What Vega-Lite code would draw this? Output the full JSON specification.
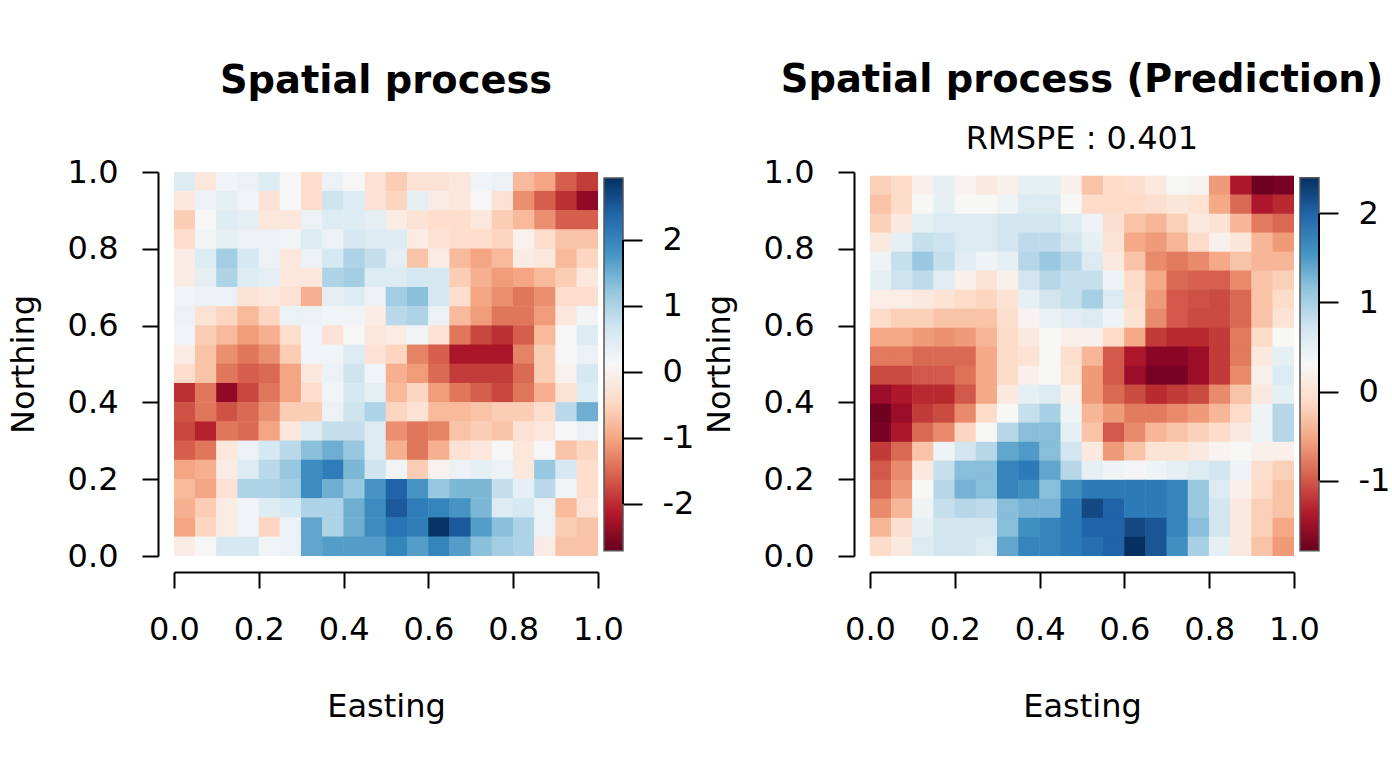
{"$schema":"https://vega.github.io/schema/vega-lite/v6.json","padding":{"left":7,"top":60,"right":0,"bottom":30},"background":"white","bounds":"flush","spacing":6,
"config":{"view":{"stroke":null},"font":"DejaVu Sans","axis":{"grid":false,"labelFont":"DejaVu Sans","titleFont":"DejaVu Sans","labelFontSize":32,"titleFontSize":32,"titleFontWeight":"normal","labelColor":"black","titleColor":"black","domainColor":"black","tickColor":"black","domainWidth":2,"tickWidth":2,"tickSize":16,"labelOverlap":false,"labelFlush":false,"labelBound":false}},
"resolve":{"scale":{"color":"independent"}},
"datasets":{
"l":[
{"x":0.025,"y":0.975,"v":0.5},{"x":0.075,"y":0.975,"v":-0.2},{"x":0.125,"y":0.975,"v":0.2},{"x":0.175,"y":0.975,"v":0.3},{"x":0.225,"y":0.975,"v":0.5},{"x":0.275,"y":0.975,"v":0.1},{"x":0.325,"y":0.975,"v":-0.4},{"x":0.375,"y":0.975,"v":0.3},{"x":0.425,"y":0.975,"v":0.1},{"x":0.475,"y":0.975,"v":-0.3},{"x":0.525,"y":0.975,"v":-0.6},{"x":0.575,"y":0.975,"v":-0.3},{"x":0.625,"y":0.975,"v":-0.3},{"x":0.675,"y":0.975,"v":-0.2},{"x":0.725,"y":0.975,"v":0.2},{"x":0.775,"y":0.975,"v":0.3},{"x":0.825,"y":0.975,"v":-0.8},{"x":0.875,"y":0.975,"v":-1},{"x":0.925,"y":0.975,"v":-1.6},{"x":0.975,"y":0.975,"v":-1.9},
{"x":0.025,"y":0.925,"v":-0.2},{"x":0.075,"y":0.925,"v":0.3},{"x":0.125,"y":0.925,"v":0.4},{"x":0.175,"y":0.925,"v":0.2},{"x":0.225,"y":0.925,"v":-0.3},{"x":0.275,"y":0.925,"v":0.1},{"x":0.325,"y":0.925,"v":-0.4},{"x":0.375,"y":0.925,"v":0.7},{"x":0.425,"y":0.925,"v":0.5},{"x":0.475,"y":0.925,"v":-0.3},{"x":0.525,"y":0.925,"v":-0.5},{"x":0.575,"y":0.925,"v":0.4},{"x":0.625,"y":0.925,"v":-0.1},{"x":0.675,"y":0.925,"v":-0.2},{"x":0.725,"y":0.925,"v":0.1},{"x":0.775,"y":0.925,"v":-0.3},{"x":0.825,"y":0.925,"v":-1.2},{"x":0.875,"y":0.925,"v":-1.6},{"x":0.925,"y":0.925,"v":-2},{"x":0.975,"y":0.925,"v":-2.4},
{"x":0.025,"y":0.875,"v":-0.6},{"x":0.075,"y":0.875,"v":0.1},{"x":0.125,"y":0.875,"v":0.5},{"x":0.175,"y":0.875,"v":0.4},{"x":0.225,"y":0.875,"v":-0.2},{"x":0.275,"y":0.875,"v":-0.2},{"x":0.325,"y":0.875,"v":0.3},{"x":0.375,"y":0.875,"v":0.5},{"x":0.425,"y":0.875,"v":0.5},{"x":0.475,"y":0.875,"v":0.4},{"x":0.525,"y":0.875,"v":-0.1},{"x":0.575,"y":0.875,"v":-0.3},{"x":0.625,"y":0.875,"v":-0.4},{"x":0.675,"y":0.875,"v":-0.4},{"x":0.725,"y":0.875,"v":-0.2},{"x":0.775,"y":0.875,"v":-0.6},{"x":0.825,"y":0.875,"v":-0.8},{"x":0.875,"y":0.875,"v":-1.2},{"x":0.925,"y":0.875,"v":-1.6},{"x":0.975,"y":0.875,"v":-1.6},
{"x":0.025,"y":0.825,"v":-0.4},{"x":0.075,"y":0.825,"v":0.2},{"x":0.125,"y":0.825,"v":0.4},{"x":0.175,"y":0.825,"v":0.3},{"x":0.225,"y":0.825,"v":0.3},{"x":0.275,"y":0.825,"v":0.2},{"x":0.325,"y":0.825,"v":0.5},{"x":0.375,"y":0.825,"v":0.3},{"x":0.425,"y":0.825,"v":0.6},{"x":0.475,"y":0.825,"v":0.5},{"x":0.525,"y":0.825,"v":0.5},{"x":0.575,"y":0.825,"v":-0.1},{"x":0.625,"y":0.825,"v":-0.3},{"x":0.675,"y":0.825,"v":-0.4},{"x":0.725,"y":0.825,"v":-0.4},{"x":0.775,"y":0.825,"v":-0.5},{"x":0.825,"y":0.825,"v":0},{"x":0.875,"y":0.825,"v":-0.4},{"x":0.925,"y":0.825,"v":-0.7},{"x":0.975,"y":0.825,"v":-0.7},
{"x":0.025,"y":0.775,"v":-0.1},{"x":0.075,"y":0.775,"v":0.5},{"x":0.125,"y":0.775,"v":1.1},{"x":0.175,"y":0.775,"v":0.6},{"x":0.225,"y":0.775,"v":0.3},{"x":0.275,"y":0.775,"v":-0.2},{"x":0.325,"y":0.775,"v":0.3},{"x":0.375,"y":0.775,"v":0.6},{"x":0.425,"y":0.775,"v":1},{"x":0.475,"y":0.775,"v":0.8},{"x":0.525,"y":0.775,"v":0.4},{"x":0.575,"y":0.775,"v":-0.7},{"x":0.625,"y":0.775,"v":-0.1},{"x":0.675,"y":0.775,"v":-0.8},{"x":0.725,"y":0.775,"v":-1},{"x":0.775,"y":0.775,"v":-0.8},{"x":0.825,"y":0.775,"v":-0.1},{"x":0.875,"y":0.775,"v":-0.2},{"x":0.925,"y":0.775,"v":-0.8},{"x":0.975,"y":0.775,"v":-0.5},
{"x":0.025,"y":0.725,"v":-0.1},{"x":0.075,"y":0.725,"v":0.4},{"x":0.125,"y":0.725,"v":1},{"x":0.175,"y":0.725,"v":0.5},{"x":0.225,"y":0.725,"v":0.4},{"x":0.275,"y":0.725,"v":-0.2},{"x":0.325,"y":0.725,"v":-0.2},{"x":0.375,"y":0.725,"v":1},{"x":0.425,"y":0.725,"v":1.1},{"x":0.475,"y":0.725,"v":0.5},{"x":0.525,"y":0.725,"v":0.5},{"x":0.575,"y":0.725,"v":0.6},{"x":0.625,"y":0.725,"v":0.6},{"x":0.675,"y":0.725,"v":-0.6},{"x":0.725,"y":0.725,"v":-0.9},{"x":0.775,"y":0.725,"v":-1.1},{"x":0.825,"y":0.725,"v":-1},{"x":0.875,"y":0.725,"v":-0.8},{"x":0.925,"y":0.725,"v":-0.6},{"x":0.975,"y":0.725,"v":-0.2},
{"x":0.025,"y":0.675,"v":0.2},{"x":0.075,"y":0.675,"v":0.3},{"x":0.125,"y":0.675,"v":0.3},{"x":0.175,"y":0.675,"v":-0.3},{"x":0.225,"y":0.675,"v":-0.2},{"x":0.275,"y":0.675,"v":-0.3},{"x":0.325,"y":0.675,"v":-0.9},{"x":0.375,"y":0.675,"v":0.4},{"x":0.425,"y":0.675,"v":0.5},{"x":0.475,"y":0.675,"v":0.3},{"x":0.525,"y":0.675,"v":1.1},{"x":0.575,"y":0.675,"v":1.3},{"x":0.625,"y":0.675,"v":0.6},{"x":0.675,"y":0.675,"v":-0.4},{"x":0.725,"y":0.675,"v":-1},{"x":0.775,"y":0.675,"v":-1.2},{"x":0.825,"y":0.675,"v":-1.4},{"x":0.875,"y":0.675,"v":-1.2},{"x":0.925,"y":0.675,"v":-0.4},{"x":0.975,"y":0.675,"v":-0.4},
{"x":0.025,"y":0.625,"v":0.3},{"x":0.075,"y":0.625,"v":-0.3},{"x":0.125,"y":0.625,"v":-0.5},{"x":0.175,"y":0.625,"v":-0.8},{"x":0.225,"y":0.625,"v":-0.5},{"x":0.275,"y":0.625,"v":0.3},{"x":0.325,"y":0.625,"v":0.3},{"x":0.375,"y":0.625,"v":0.2},{"x":0.425,"y":0.625,"v":0.2},{"x":0.475,"y":0.625,"v":-0.1},{"x":0.525,"y":0.625,"v":0.9},{"x":0.575,"y":0.625,"v":1},{"x":0.625,"y":0.625,"v":0.3},{"x":0.675,"y":0.625,"v":-0.8},{"x":0.725,"y":0.625,"v":-1.1},{"x":0.775,"y":0.625,"v":-1.4},{"x":0.825,"y":0.625,"v":-1.4},{"x":0.875,"y":0.625,"v":-1.1},{"x":0.925,"y":0.625,"v":-0.2},{"x":0.975,"y":0.625,"v":0.2},
{"x":0.025,"y":0.575,"v":0.2},{"x":0.075,"y":0.575,"v":-0.6},{"x":0.125,"y":0.575,"v":-0.8},{"x":0.175,"y":0.575,"v":-1.1},{"x":0.225,"y":0.575,"v":-0.9},{"x":0.275,"y":0.575,"v":-0.4},{"x":0.325,"y":0.575,"v":0.2},{"x":0.375,"y":0.575,"v":-0.3},{"x":0.425,"y":0.575,"v":0.1},{"x":0.475,"y":0.575,"v":-0.2},{"x":0.525,"y":0.575,"v":-0.1},{"x":0.575,"y":0.575,"v":0.2},{"x":0.625,"y":0.575,"v":-0.3},{"x":0.675,"y":0.575,"v":-1.4},{"x":0.725,"y":0.575,"v":-1.8},{"x":0.775,"y":0.575,"v":-2},{"x":0.825,"y":0.575,"v":-1.6},{"x":0.875,"y":0.575,"v":-0.8},{"x":0.925,"y":0.575,"v":0.1},{"x":0.975,"y":0.575,"v":0.5},
{"x":0.025,"y":0.525,"v":-0.1},{"x":0.075,"y":0.525,"v":-0.7},{"x":0.125,"y":0.525,"v":-1.2},{"x":0.175,"y":0.525,"v":-1.4},{"x":0.225,"y":0.525,"v":-1.2},{"x":0.275,"y":0.525,"v":-0.6},{"x":0.325,"y":0.525,"v":0.2},{"x":0.375,"y":0.525,"v":0.2},{"x":0.425,"y":0.525,"v":0.5},{"x":0.475,"y":0.525,"v":-0.3},{"x":0.525,"y":0.525,"v":-0.5},{"x":0.575,"y":0.525,"v":-1.3},{"x":0.625,"y":0.525,"v":-1.6},{"x":0.675,"y":0.525,"v":-2.2},{"x":0.725,"y":0.525,"v":-2.2},{"x":0.775,"y":0.525,"v":-2.2},{"x":0.825,"y":0.525,"v":-1.3},{"x":0.875,"y":0.525,"v":-0.6},{"x":0.925,"y":0.525,"v":0.1},{"x":0.975,"y":0.525,"v":0.3},
{"x":0.025,"y":0.475,"v":-0.4},{"x":0.075,"y":0.475,"v":-0.7},{"x":0.125,"y":0.475,"v":-1.4},{"x":0.175,"y":0.475,"v":-1.6},{"x":0.225,"y":0.475,"v":-1.5},{"x":0.275,"y":0.475,"v":-1},{"x":0.325,"y":0.475,"v":-0.2},{"x":0.375,"y":0.475,"v":0.3},{"x":0.425,"y":0.475,"v":0.7},{"x":0.475,"y":0.475,"v":0.2},{"x":0.525,"y":0.475,"v":-0.9},{"x":0.575,"y":0.475,"v":-1.1},{"x":0.625,"y":0.475,"v":-1.5},{"x":0.675,"y":0.475,"v":-1.9},{"x":0.725,"y":0.475,"v":-1.9},{"x":0.775,"y":0.475,"v":-1.9},{"x":0.825,"y":0.475,"v":-1.5},{"x":0.875,"y":0.475,"v":-0.6},{"x":0.925,"y":0.475,"v":0},{"x":0.975,"y":0.475,"v":0.6},
{"x":0.025,"y":0.425,"v":-2},{"x":0.075,"y":0.425,"v":-1.4},{"x":0.125,"y":0.425,"v":-2.4},{"x":0.175,"y":0.425,"v":-1.8},{"x":0.225,"y":0.425,"v":-1.4},{"x":0.275,"y":0.425,"v":-1},{"x":0.325,"y":0.425,"v":-0.4},{"x":0.375,"y":0.425,"v":0.2},{"x":0.425,"y":0.425,"v":0.6},{"x":0.475,"y":0.425,"v":0.4},{"x":0.525,"y":0.425,"v":-0.8},{"x":0.575,"y":0.425,"v":-0.5},{"x":0.625,"y":0.425,"v":-1.1},{"x":0.675,"y":0.425,"v":-1.4},{"x":0.725,"y":0.425,"v":-1.6},{"x":0.775,"y":0.425,"v":-1.8},{"x":0.825,"y":0.425,"v":-1.4},{"x":0.875,"y":0.425,"v":-0.9},{"x":0.925,"y":0.425,"v":-0.3},{"x":0.975,"y":0.425,"v":0.5},
{"x":0.025,"y":0.375,"v":-1.7},{"x":0.075,"y":0.375,"v":-1.4},{"x":0.125,"y":0.375,"v":-1.7},{"x":0.175,"y":0.375,"v":-1.5},{"x":0.225,"y":0.375,"v":-1.2},{"x":0.275,"y":0.375,"v":-0.6},{"x":0.325,"y":0.375,"v":-0.6},{"x":0.375,"y":0.375,"v":0.3},{"x":0.425,"y":0.375,"v":0.7},{"x":0.475,"y":0.375,"v":1},{"x":0.525,"y":0.375,"v":-0.5},{"x":0.575,"y":0.375,"v":-0.3},{"x":0.625,"y":0.375,"v":-0.8},{"x":0.675,"y":0.375,"v":-0.8},{"x":0.725,"y":0.375,"v":-0.7},{"x":0.775,"y":0.375,"v":-0.6},{"x":0.825,"y":0.375,"v":-0.6},{"x":0.875,"y":0.375,"v":-0.4},{"x":0.925,"y":0.375,"v":0.9},{"x":0.975,"y":0.375,"v":1.5},
{"x":0.025,"y":0.325,"v":-1.8},{"x":0.075,"y":0.325,"v":-2.1},{"x":0.125,"y":0.325,"v":-1.4},{"x":0.175,"y":0.325,"v":-1.5},{"x":0.225,"y":0.325,"v":-1},{"x":0.275,"y":0.325,"v":-0.2},{"x":0.325,"y":0.325,"v":0.5},{"x":0.375,"y":0.325,"v":0.8},{"x":0.425,"y":0.325,"v":0.8},{"x":0.475,"y":0.325,"v":0.5},{"x":0.525,"y":0.325,"v":-1.2},{"x":0.575,"y":0.325,"v":-1.4},{"x":0.625,"y":0.325,"v":-1.3},{"x":0.675,"y":0.325,"v":-0.7},{"x":0.725,"y":0.325,"v":-0.6},{"x":0.775,"y":0.325,"v":-0.7},{"x":0.825,"y":0.325,"v":-0.3},{"x":0.875,"y":0.325,"v":-0.2},{"x":0.925,"y":0.325,"v":0.1},{"x":0.975,"y":0.325,"v":0.3},
{"x":0.025,"y":0.275,"v":-1.6},{"x":0.075,"y":0.275,"v":-1.4},{"x":0.125,"y":0.275,"v":-0.2},{"x":0.175,"y":0.275,"v":0.3},{"x":0.225,"y":0.275,"v":0.6},{"x":0.275,"y":0.275,"v":0.9},{"x":0.325,"y":0.275,"v":1.3},{"x":0.375,"y":0.275,"v":1.5},{"x":0.425,"y":0.275,"v":1.2},{"x":0.475,"y":0.275,"v":0.5},{"x":0.525,"y":0.275,"v":-0.9},{"x":0.575,"y":0.275,"v":-1.4},{"x":0.625,"y":0.275,"v":-0.9},{"x":0.675,"y":0.275,"v":-0.3},{"x":0.725,"y":0.275,"v":-0.2},{"x":0.775,"y":0.275,"v":0.1},{"x":0.825,"y":0.275,"v":-0.2},{"x":0.875,"y":0.275,"v":0.1},{"x":0.925,"y":0.275,"v":-0.7},{"x":0.975,"y":0.275,"v":-0.5},
{"x":0.025,"y":0.225,"v":-1},{"x":0.075,"y":0.225,"v":-0.9},{"x":0.125,"y":0.225,"v":-0.1},{"x":0.175,"y":0.225,"v":0.5},{"x":0.225,"y":0.225,"v":0.9},{"x":0.275,"y":0.225,"v":1.2},{"x":0.325,"y":0.225,"v":1.9},{"x":0.375,"y":0.225,"v":2.1},{"x":0.425,"y":0.225,"v":1.4},{"x":0.475,"y":0.225,"v":0.7},{"x":0.525,"y":0.225,"v":0.2},{"x":0.575,"y":0.225,"v":-0.6},{"x":0.625,"y":0.225,"v":0},{"x":0.675,"y":0.225,"v":0.3},{"x":0.725,"y":0.225,"v":0.4},{"x":0.775,"y":0.225,"v":0.3},{"x":0.825,"y":0.225,"v":-0.2},{"x":0.875,"y":0.225,"v":1.2},{"x":0.925,"y":0.225,"v":0.6},{"x":0.975,"y":0.225,"v":-0.4},
{"x":0.025,"y":0.175,"v":-0.8},{"x":0.075,"y":0.175,"v":-1},{"x":0.125,"y":0.175,"v":-0.3},{"x":0.175,"y":0.175,"v":1},{"x":0.225,"y":0.175,"v":1},{"x":0.275,"y":0.175,"v":1.1},{"x":0.325,"y":0.175,"v":1.9},{"x":0.375,"y":0.175,"v":1.5},{"x":0.425,"y":0.175,"v":1.2},{"x":0.475,"y":0.175,"v":1.8},{"x":0.525,"y":0.175,"v":2.4},{"x":0.575,"y":0.175,"v":1.8},{"x":0.625,"y":0.175,"v":1.2},{"x":0.675,"y":0.175,"v":1.4},{"x":0.725,"y":0.175,"v":1.4},{"x":0.775,"y":0.175,"v":0.8},{"x":0.825,"y":0.175,"v":0.4},{"x":0.875,"y":0.175,"v":0.9},{"x":0.925,"y":0.175,"v":0.2},{"x":0.975,"y":0.175,"v":-0.4},
{"x":0.025,"y":0.125,"v":-0.9},{"x":0.075,"y":0.125,"v":-0.6},{"x":0.125,"y":0.125,"v":-0.1},{"x":0.175,"y":0.125,"v":0.2},{"x":0.225,"y":0.125,"v":0.5},{"x":0.275,"y":0.125,"v":0.6},{"x":0.325,"y":0.125,"v":1},{"x":0.375,"y":0.125,"v":1},{"x":0.425,"y":0.125,"v":1.5},{"x":0.475,"y":0.125,"v":1.9},{"x":0.525,"y":0.125,"v":2.5},{"x":0.575,"y":0.125,"v":2.1},{"x":0.625,"y":0.125,"v":2},{"x":0.675,"y":0.125,"v":1.8},{"x":0.725,"y":0.125,"v":1.4},{"x":0.775,"y":0.125,"v":0.5},{"x":0.825,"y":0.125,"v":0.6},{"x":0.875,"y":0.125,"v":0.3},{"x":0.925,"y":0.125,"v":-0.8},{"x":0.975,"y":0.125,"v":-0.3},
{"x":0.025,"y":0.075,"v":-1},{"x":0.075,"y":0.075,"v":-0.5},{"x":0.125,"y":0.075,"v":-0.1},{"x":0.175,"y":0.075,"v":0.2},{"x":0.225,"y":0.075,"v":-0.5},{"x":0.275,"y":0.075,"v":0.3},{"x":0.325,"y":0.075,"v":1.6},{"x":0.375,"y":0.075,"v":1},{"x":0.425,"y":0.075,"v":1.5},{"x":0.475,"y":0.075,"v":1.9},{"x":0.525,"y":0.075,"v":2.2},{"x":0.575,"y":0.075,"v":2.1},{"x":0.625,"y":0.075,"v":2.9},{"x":0.675,"y":0.075,"v":2.5},{"x":0.725,"y":0.075,"v":1.7},{"x":0.775,"y":0.075,"v":1.3},{"x":0.825,"y":0.075,"v":1},{"x":0.875,"y":0.075,"v":0.3},{"x":0.925,"y":0.075,"v":-0.6},{"x":0.975,"y":0.075,"v":-0.7},
{"x":0.025,"y":0.025,"v":-0.1},{"x":0.075,"y":0.025,"v":0.1},{"x":0.125,"y":0.025,"v":0.6},{"x":0.175,"y":0.025,"v":0.6},{"x":0.225,"y":0.025,"v":0.2},{"x":0.275,"y":0.025,"v":0.3},{"x":0.325,"y":0.025,"v":1.6},{"x":0.375,"y":0.025,"v":1.7},{"x":0.425,"y":0.025,"v":1.7},{"x":0.475,"y":0.025,"v":1.7},{"x":0.525,"y":0.025,"v":2},{"x":0.575,"y":0.025,"v":1.7},{"x":0.625,"y":0.025,"v":2},{"x":0.675,"y":0.025,"v":1.7},{"x":0.725,"y":0.025,"v":1.3},{"x":0.775,"y":0.025,"v":1.1},{"x":0.825,"y":0.025,"v":1},{"x":0.875,"y":0.025,"v":-0.1},{"x":0.925,"y":0.025,"v":-0.7},{"x":0.975,"y":0.025,"v":-0.7}
],
"r":[
{"x":0.025,"y":0.965,"v":-0.2},{"x":0.075,"y":0.965,"v":-0.1},{"x":0.125,"y":0.965,"v":0.2},{"x":0.175,"y":0.965,"v":0.5},{"x":0.225,"y":0.965,"v":0.25},{"x":0.275,"y":0.965,"v":0.1},{"x":0.325,"y":0.965,"v":0.2},{"x":0.375,"y":0.965,"v":0.5},{"x":0.425,"y":0.965,"v":0.5},{"x":0.475,"y":0.965,"v":0.2},{"x":0.525,"y":0.965,"v":-0.3},{"x":0.575,"y":0.965,"v":-0.1},{"x":0.625,"y":0.965,"v":-0.05},{"x":0.675,"y":0.965,"v":0.1},{"x":0.725,"y":0.965,"v":0.3},{"x":0.775,"y":0.965,"v":0.25},{"x":0.825,"y":0.965,"v":-0.6},{"x":0.875,"y":0.965,"v":-1.4},{"x":0.925,"y":0.965,"v":-1.75},{"x":0.975,"y":0.965,"v":-1.7},
{"x":0.025,"y":0.916,"v":-0.3},{"x":0.075,"y":0.916,"v":-0.1},{"x":0.125,"y":0.916,"v":0.3},{"x":0.175,"y":0.916,"v":0.5},{"x":0.225,"y":0.916,"v":0.3},{"x":0.275,"y":0.916,"v":0.3},{"x":0.325,"y":0.916,"v":0.4},{"x":0.375,"y":0.916,"v":0.6},{"x":0.425,"y":0.916,"v":0.6},{"x":0.475,"y":0.916,"v":0.3},{"x":0.525,"y":0.916,"v":-0.1},{"x":0.575,"y":0.916,"v":-0.1},{"x":0.625,"y":0.916,"v":-0.1},{"x":0.675,"y":0.916,"v":-0.05},{"x":0.725,"y":0.916,"v":0.05},{"x":0.775,"y":0.916,"v":0},{"x":0.825,"y":0.916,"v":-0.5},{"x":0.875,"y":0.916,"v":-0.9},{"x":0.925,"y":0.916,"v":-1.4},{"x":0.975,"y":0.916,"v":-1.3},
{"x":0.025,"y":0.866,"v":-0.2},{"x":0.075,"y":0.866,"v":0.1},{"x":0.125,"y":0.866,"v":0.5},{"x":0.175,"y":0.866,"v":0.6},{"x":0.225,"y":0.866,"v":0.6},{"x":0.275,"y":0.866,"v":0.6},{"x":0.325,"y":0.866,"v":0.7},{"x":0.375,"y":0.866,"v":0.7},{"x":0.425,"y":0.866,"v":0.7},{"x":0.475,"y":0.866,"v":0.6},{"x":0.525,"y":0.866,"v":0.4},{"x":0.575,"y":0.866,"v":-0.05},{"x":0.625,"y":0.866,"v":-0.3},{"x":0.675,"y":0.866,"v":-0.4},{"x":0.725,"y":0.866,"v":-0.2},{"x":0.775,"y":0.866,"v":0.1},{"x":0.825,"y":0.866,"v":0},{"x":0.875,"y":0.866,"v":-0.4},{"x":0.925,"y":0.866,"v":-0.8},{"x":0.975,"y":0.866,"v":-0.9},
{"x":0.025,"y":0.817,"v":0.1},{"x":0.075,"y":0.817,"v":0.5},{"x":0.125,"y":0.817,"v":0.8},{"x":0.175,"y":0.817,"v":0.75},{"x":0.225,"y":0.817,"v":0.6},{"x":0.275,"y":0.817,"v":0.6},{"x":0.325,"y":0.817,"v":0.7},{"x":0.375,"y":0.817,"v":0.85},{"x":0.425,"y":0.817,"v":0.85},{"x":0.475,"y":0.817,"v":0.7},{"x":0.525,"y":0.817,"v":0.5},{"x":0.575,"y":0.817,"v":0},{"x":0.625,"y":0.817,"v":-0.5},{"x":0.675,"y":0.817,"v":-0.6},{"x":0.725,"y":0.817,"v":-0.4},{"x":0.775,"y":0.817,"v":-0.1},{"x":0.825,"y":0.817,"v":0.2},{"x":0.875,"y":0.817,"v":0.05},{"x":0.925,"y":0.817,"v":-0.4},{"x":0.975,"y":0.817,"v":-0.6},
{"x":0.025,"y":0.767,"v":0.4},{"x":0.075,"y":0.767,"v":0.8},{"x":0.125,"y":0.767,"v":1.1},{"x":0.175,"y":0.767,"v":0.8},{"x":0.225,"y":0.767,"v":0.55},{"x":0.275,"y":0.767,"v":0.4},{"x":0.325,"y":0.767,"v":0.5},{"x":0.375,"y":0.767,"v":0.9},{"x":0.425,"y":0.767,"v":1.1},{"x":0.475,"y":0.767,"v":0.9},{"x":0.525,"y":0.767,"v":0.6},{"x":0.575,"y":0.767,"v":0.1},{"x":0.625,"y":0.767,"v":-0.3},{"x":0.675,"y":0.767,"v":-0.7},{"x":0.725,"y":0.767,"v":-0.8},{"x":0.775,"y":0.767,"v":-0.7},{"x":0.825,"y":0.767,"v":-0.5},{"x":0.875,"y":0.767,"v":-0.3},{"x":0.925,"y":0.767,"v":-0.4},{"x":0.975,"y":0.767,"v":-0.4},
{"x":0.025,"y":0.718,"v":0.5},{"x":0.075,"y":0.718,"v":0.75},{"x":0.125,"y":0.718,"v":0.85},{"x":0.175,"y":0.718,"v":0.55},{"x":0.225,"y":0.718,"v":0.2},{"x":0.275,"y":0.718,"v":0},{"x":0.325,"y":0.718,"v":0.2},{"x":0.375,"y":0.718,"v":0.7},{"x":0.425,"y":0.718,"v":0.9},{"x":0.475,"y":0.718,"v":0.8},{"x":0.525,"y":0.718,"v":0.8},{"x":0.575,"y":0.718,"v":0.4},{"x":0.625,"y":0.718,"v":-0.1},{"x":0.675,"y":0.718,"v":-0.5},{"x":0.725,"y":0.718,"v":-0.9},{"x":0.775,"y":0.718,"v":-0.95},{"x":0.825,"y":0.718,"v":-0.95},{"x":0.875,"y":0.718,"v":-0.7},{"x":0.925,"y":0.718,"v":-0.3},{"x":0.975,"y":0.718,"v":-0.2},
{"x":0.025,"y":0.668,"v":0.15},{"x":0.075,"y":0.668,"v":0.15},{"x":0.125,"y":0.668,"v":0.1},{"x":0.175,"y":0.668,"v":0},{"x":0.225,"y":0.668,"v":-0.1},{"x":0.275,"y":0.668,"v":-0.15},{"x":0.325,"y":0.668,"v":0},{"x":0.375,"y":0.668,"v":0.5},{"x":0.425,"y":0.668,"v":0.7},{"x":0.475,"y":0.668,"v":0.8},{"x":0.525,"y":0.668,"v":1},{"x":0.575,"y":0.668,"v":0.6},{"x":0.625,"y":0.668,"v":-0.05},{"x":0.675,"y":0.668,"v":-0.6},{"x":0.725,"y":0.668,"v":-1},{"x":0.775,"y":0.668,"v":-1.05},{"x":0.825,"y":0.668,"v":-1.1},{"x":0.875,"y":0.668,"v":-0.9},{"x":0.925,"y":0.668,"v":-0.3},{"x":0.975,"y":0.668,"v":-0.1},
{"x":0.025,"y":0.619,"v":-0.1},{"x":0.075,"y":0.619,"v":-0.2},{"x":0.125,"y":0.619,"v":-0.2},{"x":0.175,"y":0.619,"v":-0.3},{"x":0.225,"y":0.619,"v":-0.3},{"x":0.275,"y":0.619,"v":-0.3},{"x":0.325,"y":0.619,"v":-0.05},{"x":0.375,"y":0.619,"v":0.25},{"x":0.425,"y":0.619,"v":0.45},{"x":0.475,"y":0.619,"v":0.55},{"x":0.525,"y":0.619,"v":0.6},{"x":0.575,"y":0.619,"v":0.4},{"x":0.625,"y":0.619,"v":0},{"x":0.675,"y":0.619,"v":-0.7},{"x":0.725,"y":0.619,"v":-1},{"x":0.775,"y":0.619,"v":-1.1},{"x":0.825,"y":0.619,"v":-1.1},{"x":0.875,"y":0.619,"v":-0.9},{"x":0.925,"y":0.619,"v":-0.3},{"x":0.975,"y":0.619,"v":0},
{"x":0.025,"y":0.569,"v":-0.5},{"x":0.075,"y":0.569,"v":-0.5},{"x":0.125,"y":0.569,"v":-0.6},{"x":0.175,"y":0.569,"v":-0.65},{"x":0.225,"y":0.569,"v":-0.6},{"x":0.275,"y":0.569,"v":-0.4},{"x":0.325,"y":0.569,"v":-0.1},{"x":0.375,"y":0.569,"v":0.1},{"x":0.425,"y":0.569,"v":0.3},{"x":0.475,"y":0.569,"v":0.2},{"x":0.525,"y":0.569,"v":0.2},{"x":0.575,"y":0.569,"v":-0.1},{"x":0.625,"y":0.569,"v":-0.5},{"x":0.675,"y":0.569,"v":-1.2},{"x":0.725,"y":0.569,"v":-1.3},{"x":0.775,"y":0.569,"v":-1.3},{"x":0.825,"y":0.569,"v":-1.2},{"x":0.875,"y":0.569,"v":-0.8},{"x":0.925,"y":0.569,"v":-0.1},{"x":0.975,"y":0.569,"v":0.3},
{"x":0.025,"y":0.52,"v":-0.8},{"x":0.075,"y":0.52,"v":-0.8},{"x":0.125,"y":0.52,"v":-0.9},{"x":0.175,"y":0.52,"v":-0.9},{"x":0.225,"y":0.52,"v":-0.9},{"x":0.275,"y":0.52,"v":-0.5},{"x":0.325,"y":0.52,"v":-0.1},{"x":0.375,"y":0.52,"v":0},{"x":0.425,"y":0.52,"v":0.3},{"x":0.475,"y":0.52,"v":-0.05},{"x":0.525,"y":0.52,"v":-0.4},{"x":0.575,"y":0.52,"v":-1},{"x":0.625,"y":0.52,"v":-1.4},{"x":0.675,"y":0.52,"v":-1.6},{"x":0.725,"y":0.52,"v":-1.6},{"x":0.775,"y":0.52,"v":-1.5},{"x":0.825,"y":0.52,"v":-1.2},{"x":0.875,"y":0.52,"v":-0.8},{"x":0.925,"y":0.52,"v":0.1},{"x":0.975,"y":0.52,"v":0.5},
{"x":0.025,"y":0.47,"v":-1.1},{"x":0.075,"y":0.47,"v":-1.1},{"x":0.125,"y":0.47,"v":-1},{"x":0.175,"y":0.47,"v":-1},{"x":0.225,"y":0.47,"v":-0.85},{"x":0.275,"y":0.47,"v":-0.5},{"x":0.325,"y":0.47,"v":-0.1},{"x":0.375,"y":0.47,"v":0.2},{"x":0.425,"y":0.47,"v":0.3},{"x":0.475,"y":0.47,"v":0},{"x":0.525,"y":0.47,"v":-0.6},{"x":0.575,"y":0.47,"v":-1},{"x":0.625,"y":0.47,"v":-1.5},{"x":0.675,"y":0.47,"v":-1.7},{"x":0.725,"y":0.47,"v":-1.7},{"x":0.775,"y":0.47,"v":-1.5},{"x":0.825,"y":0.47,"v":-1.2},{"x":0.875,"y":0.47,"v":-0.7},{"x":0.925,"y":0.47,"v":0.2},{"x":0.975,"y":0.47,"v":0.6},
{"x":0.025,"y":0.421,"v":-1.5},{"x":0.075,"y":0.421,"v":-1.4},{"x":0.125,"y":0.421,"v":-1.3},{"x":0.175,"y":0.421,"v":-1.3},{"x":0.225,"y":0.421,"v":-1},{"x":0.275,"y":0.421,"v":-0.5},{"x":0.325,"y":0.421,"v":0.1},{"x":0.375,"y":0.421,"v":0.5},{"x":0.425,"y":0.421,"v":0.6},{"x":0.475,"y":0.421,"v":0.2},{"x":0.525,"y":0.421,"v":-0.6},{"x":0.575,"y":0.421,"v":-0.9},{"x":0.625,"y":0.421,"v":-1.1},{"x":0.675,"y":0.421,"v":-1.3},{"x":0.725,"y":0.421,"v":-1.2},{"x":0.775,"y":0.421,"v":-1.1},{"x":0.825,"y":0.421,"v":-0.7},{"x":0.875,"y":0.421,"v":-0.3},{"x":0.925,"y":0.421,"v":0.1},{"x":0.975,"y":0.421,"v":0.5},
{"x":0.025,"y":0.371,"v":-1.75},{"x":0.075,"y":0.371,"v":-1.5},{"x":0.125,"y":0.371,"v":-1.2},{"x":0.175,"y":0.371,"v":-1.1},{"x":0.225,"y":0.371,"v":-0.7},{"x":0.275,"y":0.371,"v":-0.1},{"x":0.325,"y":0.371,"v":0.3},{"x":0.375,"y":0.371,"v":0.8},{"x":0.425,"y":0.371,"v":1},{"x":0.475,"y":0.371,"v":0.4},{"x":0.525,"y":0.371,"v":-0.4},{"x":0.575,"y":0.371,"v":-0.6},{"x":0.625,"y":0.371,"v":-0.8},{"x":0.675,"y":0.371,"v":-0.8},{"x":0.725,"y":0.371,"v":-0.7},{"x":0.775,"y":0.371,"v":-0.6},{"x":0.825,"y":0.371,"v":-0.4},{"x":0.875,"y":0.371,"v":-0.1},{"x":0.925,"y":0.371,"v":0.4},{"x":0.975,"y":0.371,"v":0.9},
{"x":0.025,"y":0.322,"v":-1.7},{"x":0.075,"y":0.322,"v":-1.4},{"x":0.125,"y":0.322,"v":-0.9},{"x":0.175,"y":0.322,"v":-0.7},{"x":0.225,"y":0.322,"v":-0.15},{"x":0.275,"y":0.322,"v":0.3},{"x":0.325,"y":0.322,"v":0.9},{"x":0.375,"y":0.322,"v":1.2},{"x":0.425,"y":0.322,"v":1.2},{"x":0.475,"y":0.322,"v":0.5},{"x":0.525,"y":0.322,"v":-0.3},{"x":0.575,"y":0.322,"v":-1},{"x":0.625,"y":0.322,"v":-0.7},{"x":0.675,"y":0.322,"v":-0.4},{"x":0.725,"y":0.322,"v":-0.3},{"x":0.775,"y":0.322,"v":-0.2},{"x":0.825,"y":0.322,"v":-0.1},{"x":0.875,"y":0.322,"v":0.1},{"x":0.925,"y":0.322,"v":0.4},{"x":0.975,"y":0.322,"v":0.9},
{"x":0.025,"y":0.272,"v":-1.2},{"x":0.075,"y":0.272,"v":-0.9},{"x":0.125,"y":0.272,"v":-0.3},{"x":0.175,"y":0.272,"v":0.4},{"x":0.225,"y":0.272,"v":0.7},{"x":0.275,"y":0.272,"v":0.9},{"x":0.325,"y":0.272,"v":1.4},{"x":0.375,"y":0.272,"v":1.5},{"x":0.425,"y":0.272,"v":1.2},{"x":0.475,"y":0.272,"v":0.7},{"x":0.525,"y":0.272,"v":0.1},{"x":0.575,"y":0.272,"v":-0.6},{"x":0.625,"y":0.272,"v":-0.3},{"x":0.675,"y":0.272,"v":0},{"x":0.725,"y":0.272,"v":0},{"x":0.775,"y":0.272,"v":0.1},{"x":0.825,"y":0.272,"v":0.25},{"x":0.875,"y":0.272,"v":0.3},{"x":0.925,"y":0.272,"v":0.2},{"x":0.975,"y":0.272,"v":0.2},
{"x":0.025,"y":0.223,"v":-1},{"x":0.075,"y":0.223,"v":-0.7},{"x":0.125,"y":0.223,"v":0.1},{"x":0.175,"y":0.223,"v":0.8},{"x":0.225,"y":0.223,"v":1.2},{"x":0.275,"y":0.223,"v":1.2},{"x":0.325,"y":0.223,"v":1.7},{"x":0.375,"y":0.223,"v":1.8},{"x":0.425,"y":0.223,"v":1.4},{"x":0.475,"y":0.223,"v":0.9},{"x":0.525,"y":0.223,"v":0.5},{"x":0.575,"y":0.223,"v":0.4},{"x":0.625,"y":0.223,"v":0.35},{"x":0.675,"y":0.223,"v":0.4},{"x":0.725,"y":0.223,"v":0.5},{"x":0.775,"y":0.223,"v":0.6},{"x":0.825,"y":0.223,"v":0.7},{"x":0.875,"y":0.223,"v":0.4},{"x":0.925,"y":0.223,"v":-0.05},{"x":0.975,"y":0.223,"v":-0.2},
{"x":0.025,"y":0.173,"v":-0.9},{"x":0.075,"y":0.173,"v":-0.6},{"x":0.125,"y":0.173,"v":0.3},{"x":0.175,"y":0.173,"v":0.9},{"x":0.225,"y":0.173,"v":1.3},{"x":0.275,"y":0.173,"v":1.2},{"x":0.325,"y":0.173,"v":1.7},{"x":0.375,"y":0.173,"v":1.6},{"x":0.425,"y":0.173,"v":1.2},{"x":0.475,"y":0.173,"v":1.6},{"x":0.525,"y":0.173,"v":1.8},{"x":0.575,"y":0.173,"v":1.8},{"x":0.625,"y":0.173,"v":1.8},{"x":0.675,"y":0.173,"v":1.8},{"x":0.725,"y":0.173,"v":1.7},{"x":0.775,"y":0.173,"v":1.1},{"x":0.825,"y":0.173,"v":0.6},{"x":0.875,"y":0.173,"v":0.2},{"x":0.925,"y":0.173,"v":-0.1},{"x":0.975,"y":0.173,"v":-0.3},
{"x":0.025,"y":0.124,"v":-0.7},{"x":0.075,"y":0.124,"v":-0.4},{"x":0.125,"y":0.124,"v":0.4},{"x":0.175,"y":0.124,"v":0.8},{"x":0.225,"y":0.124,"v":0.9},{"x":0.275,"y":0.124,"v":0.85},{"x":0.325,"y":0.124,"v":1.2},{"x":0.375,"y":0.124,"v":1.3},{"x":0.425,"y":0.124,"v":1.3},{"x":0.475,"y":0.124,"v":1.8},{"x":0.525,"y":0.124,"v":2.2},{"x":0.575,"y":0.124,"v":2},{"x":0.625,"y":0.124,"v":1.8},{"x":0.675,"y":0.124,"v":1.8},{"x":0.725,"y":0.124,"v":1.7},{"x":0.775,"y":0.124,"v":1.1},{"x":0.825,"y":0.124,"v":0.7},{"x":0.875,"y":0.124,"v":0.1},{"x":0.925,"y":0.124,"v":-0.2},{"x":0.975,"y":0.124,"v":-0.3},
{"x":0.025,"y":0.074,"v":-0.4},{"x":0.075,"y":0.074,"v":-0.05},{"x":0.125,"y":0.074,"v":0.5},{"x":0.175,"y":0.074,"v":0.7},{"x":0.225,"y":0.074,"v":0.7},{"x":0.275,"y":0.074,"v":0.7},{"x":0.325,"y":0.074,"v":1.2},{"x":0.375,"y":0.074,"v":1.6},{"x":0.425,"y":0.074,"v":1.7},{"x":0.475,"y":0.074,"v":1.8},{"x":0.525,"y":0.074,"v":2},{"x":0.575,"y":0.074,"v":2},{"x":0.625,"y":0.074,"v":2.2},{"x":0.675,"y":0.074,"v":2.1},{"x":0.725,"y":0.074,"v":1.7},{"x":0.775,"y":0.074,"v":1.2},{"x":0.825,"y":0.074,"v":0.7},{"x":0.875,"y":0.074,"v":0.1},{"x":0.925,"y":0.074,"v":-0.2},{"x":0.975,"y":0.074,"v":-0.5},
{"x":0.025,"y":0.025,"v":-0.1},{"x":0.075,"y":0.025,"v":0.1},{"x":0.125,"y":0.025,"v":0.6},{"x":0.175,"y":0.025,"v":0.7},{"x":0.225,"y":0.025,"v":0.7},{"x":0.275,"y":0.025,"v":0.6},{"x":0.325,"y":0.025,"v":1.4},{"x":0.375,"y":0.025,"v":1.7},{"x":0.425,"y":0.025,"v":1.7},{"x":0.475,"y":0.025,"v":1.8},{"x":0.525,"y":0.025,"v":1.9},{"x":0.575,"y":0.025,"v":2},{"x":0.625,"y":0.025,"v":2.4},{"x":0.675,"y":0.025,"v":2.1},{"x":0.725,"y":0.025,"v":1.6},{"x":0.775,"y":0.025,"v":1},{"x":0.825,"y":0.025,"v":0.5},{"x":0.875,"y":0.025,"v":0.1},{"x":0.925,"y":0.025,"v":-0.3},{"x":0.975,"y":0.025,"v":-0.6}
]},
"hconcat":[
{"width":424,"height":384,"title":{"text":"Spatial process","font":"DejaVu Sans","fontSize":38.4,"fontWeight":"bold","color":"black","anchor":"middle","offset":55},
"data":{"name":"l"},"mark":{"type":"rect","width":21.7,"height":19.7,"clip":true},
"encoding":{"x":{"field":"x","type":"quantitative","scale":{"domain":[0,1],"nice":false},"axis":{"offset":16,"values":[0,0.2,0.4,0.6,0.8,1],"format":".1f","title":"Easting","labelPadding":26,"titlePadding":46}},
"y":{"field":"y","type":"quantitative","scale":{"domain":[0,1],"nice":false},"axis":{"offset":16,"values":[0,0.2,0.4,0.6,0.8,1],"format":".1f","title":"Northing","labelAngle":0,"labelPadding":24,"titlePadding":27}},
"color":{"field":"v","type":"quantitative","legend":null,"scale":{"domain":[-2.71,-2.145,-1.58,-1.015,-0.45,0.115,0.68,1.245,1.81,2.375,2.94],"range":["#67001f","#b2182b","#d6604d","#f4a582","#fddbc7","#f7f7f7","#d1e5f0","#92c5de","#4393c3","#2166ac","#053061"]}}}},
{"width":19,"height":384,"data":{"values":[{"lo":-2.71,"hi":2.94,"a":-2,"b":2}]},
"layer":[
{"mark":{"type":"rect","stroke":"#555555","strokeWidth":1.5,"fill":{"gradient":"linear","x1":0,"y1":1,"x2":0,"y2":0,"stops":[{"offset":0,"color":"#67001f"},{"offset":0.1,"color":"#b2182b"},{"offset":0.2,"color":"#d6604d"},{"offset":0.3,"color":"#f4a582"},{"offset":0.4,"color":"#fddbc7"},{"offset":0.5,"color":"#f7f7f7"},{"offset":0.6,"color":"#d1e5f0"},{"offset":0.7,"color":"#92c5de"},{"offset":0.8,"color":"#4393c3"},{"offset":0.9,"color":"#2166ac"},{"offset":1,"color":"#053061"}]}},
"encoding":{"y":{"field":"lo","type":"quantitative","scale":{"domain":[-2.79,3.03],"nice":false},"axis":{"orient":"right","values":[-2,-1,0,1,2],"labelExpr":"''+datum.value","title":null,"domain":false,"tickSize":19,"labelPadding":20,"labelAlign":"left"}},"y2":{"field":"hi"}}},
{"mark":{"type":"rule","color":"black","strokeWidth":2},"encoding":{"x":{"datum":1,"type":"quantitative","scale":{"domain":[0,1]},"axis":null},"y":{"field":"a","type":"quantitative"},"y2":{"field":"b"}}}
]},
{"width":235,"height":384,"data":{"values":[{"a":0}]},"mark":{"type":"point","opacity":0},"encoding":{}},
{"width":424,"height":384,"title":{"text":"Spatial process (Prediction)","subtitle":"RMSPE : 0.401","font":"DejaVu Sans","fontSize":38.4,"fontWeight":"bold","color":"black","subtitleFont":"DejaVu Sans","subtitleFontSize":32,"subtitleColor":"black","subtitlePadding":24,"anchor":"middle","offset":0},
"data":{"name":"r"},"mark":{"type":"rect","width":21.7,"height":19.5,"clip":true},
"encoding":{"x":{"field":"x","type":"quantitative","scale":{"domain":[0,1],"nice":false},"axis":{"offset":16,"values":[0,0.2,0.4,0.6,0.8,1],"format":".1f","title":"Easting","labelPadding":26,"titlePadding":46}},
"y":{"field":"y","type":"quantitative","scale":{"domain":[0,1],"nice":false},"axis":{"offset":16,"values":[0,0.2,0.4,0.6,0.8,1],"format":".1f","title":"Northing","labelAngle":0,"labelPadding":24,"titlePadding":27}},
"color":{"field":"v","type":"quantitative","legend":null,"scale":{"domain":[-1.79,-1.371,-0.952,-0.533,-0.114,0.305,0.724,1.143,1.562,1.981,2.4],"range":["#67001f","#b2182b","#d6604d","#f4a582","#fddbc7","#f7f7f7","#d1e5f0","#92c5de","#4393c3","#2166ac","#053061"]}}}},
{"width":19,"height":384,"data":{"values":[{"lo":-1.79,"hi":2.4,"a":-1,"b":2}]},
"layer":[
{"mark":{"type":"rect","stroke":"#555555","strokeWidth":1.5,"fill":{"gradient":"linear","x1":0,"y1":1,"x2":0,"y2":0,"stops":[{"offset":0,"color":"#67001f"},{"offset":0.1,"color":"#b2182b"},{"offset":0.2,"color":"#d6604d"},{"offset":0.3,"color":"#f4a582"},{"offset":0.4,"color":"#fddbc7"},{"offset":0.5,"color":"#f7f7f7"},{"offset":0.6,"color":"#d1e5f0"},{"offset":0.7,"color":"#92c5de"},{"offset":0.8,"color":"#4393c3"},{"offset":0.9,"color":"#2166ac"},{"offset":1,"color":"#053061"}]}},
"encoding":{"y":{"field":"lo","type":"quantitative","scale":{"domain":[-1.848,2.466],"nice":false},"axis":{"orient":"right","values":[-1,0,1,2],"labelExpr":"''+datum.value","title":null,"domain":false,"tickSize":19,"labelPadding":20,"labelAlign":"left"}},"y2":{"field":"hi"}}},
{"mark":{"type":"rule","color":"black","strokeWidth":2},"encoding":{"x":{"datum":1,"type":"quantitative","scale":{"domain":[0,1]},"axis":null},"y":{"field":"a","type":"quantitative"},"y2":{"field":"b"}}}
]}
]}
